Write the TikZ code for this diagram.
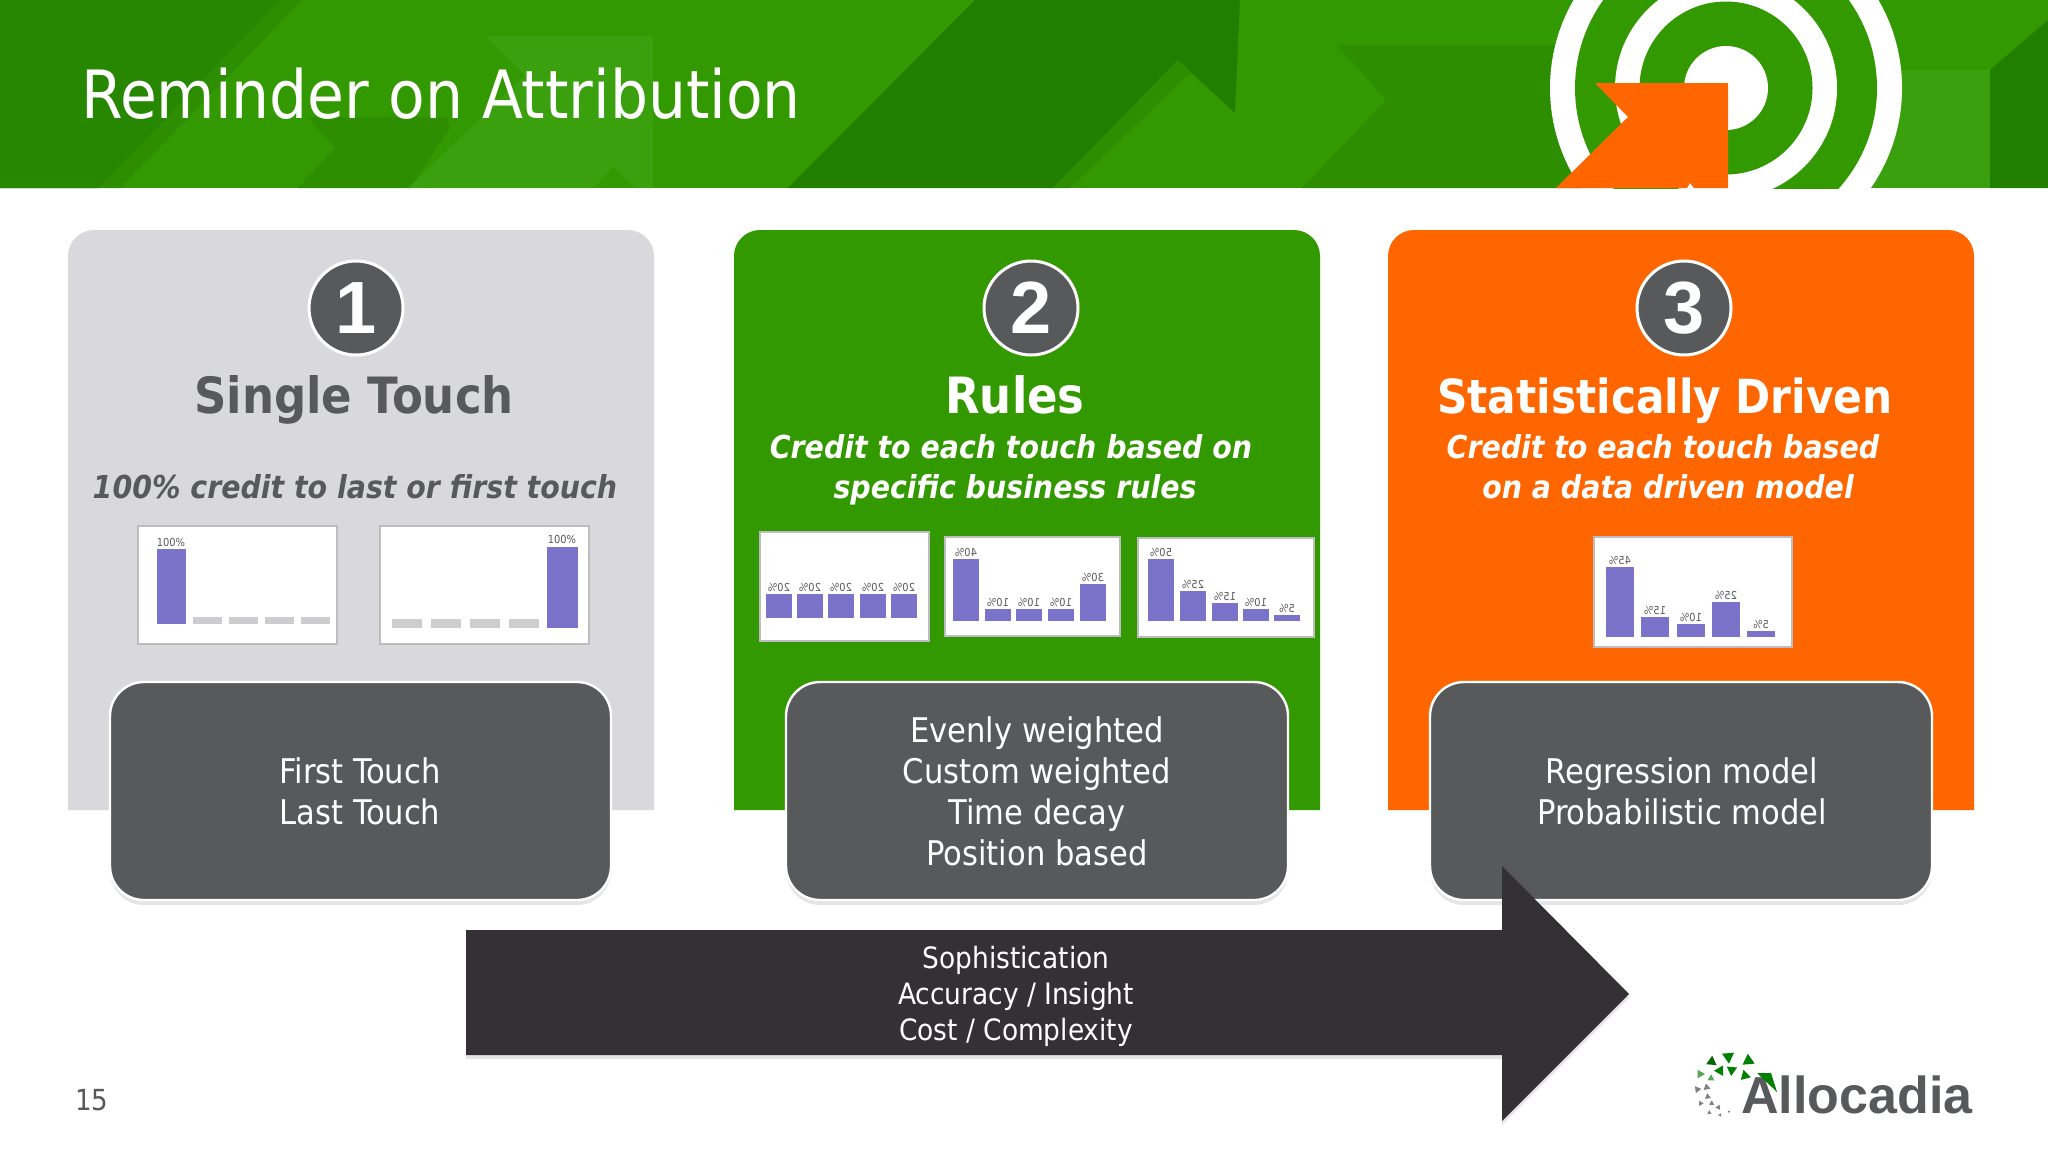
\documentclass[tikz,border=0pt]{standalone}
\usepackage{fontspec}
\setmainfont{DejaVu Sans Condensed}
\newfontfamily\logofont{Liberation Sans}
\usetikzlibrary{shadows}
\definecolor{bannergreen}{HTML}{339900}
\definecolor{bannerdark}{HTML}{2C8E00}
\definecolor{bannerleft}{HTML}{278700}
\definecolor{bannerdeep}{HTML}{217F00}
\definecolor{bannerlight}{HTML}{3AA00E}
\definecolor{panelgray}{HTML}{D9D9DC}
\definecolor{paneltext}{HTML}{58595B}
\definecolor{hotorange}{HTML}{FF6600}
\definecolor{slatebox}{HTML}{58595B}
\definecolor{arrowdark}{HTML}{333133}
\definecolor{barpurple}{HTML}{7A73C9}
\definecolor{bargray}{HTML}{CDCDD0}
\definecolor{thumbedge}{HTML}{BDBDC0}
\tikzset{
    slatenode/.style={draw=white,line width=1.2pt,fill=slatebox,rounded corners=17pt,
        drop shadow={shadow xshift=0pt,shadow yshift=-2.5pt,opacity=.2}},
    numbercircle/.style={circle,draw=white,line width=1.5pt,fill=slatebox,text=white,
        minimum size=47pt,inner sep=0pt,font=\logofont\bfseries\fontsize{37}{37}\selectfont},
    headtext/.style={anchor=base,inner sep=0pt,font=\bfseries\fontsize{25}{25}\selectfont},
    subtext/.style={anchor=base,inner sep=0pt,font=\bfseries\itshape\fontsize{15.8}{15.8}\selectfont},
    slatetext/.style={white,align=center,font=\fontsize{17}{20.5}\selectfont},
    thumb/.style={draw=thumbedge,line width=.6pt,fill=white},
    barlabel/.style={text=paneltext,font=\fontsize{5.5}{5.5}\selectfont,inner sep=0pt},
}
\begin{document}
\begin{tikzpicture}[x=0.5pt,y=-0.5pt]
    \useasboundingbox (0,0) rectangle (2048,1152);
    \fill[white] (0,0) rectangle (2048,1152);
    %% Banner
    \begin{scope}
        \clip (0,0) rectangle (2048,188);
        \fill[bannergreen] (0,0) rectangle (2048,188);
        \fill[bannerdark] (0,0) -- (302,0) -- (120,188) -- (0,188) -- cycle;
        \fill[bannerleft] (0,0) -- (280,0) -- (98,188) -- (0,188) -- cycle;
        \fill[bannerdark] (307,117) -- (447,117) -- (450,128) -- (410,188) -- (298,188)
            -- (335,148) -- cycle;
        \fill[bannerlight] (485,36) -- (653,36) -- (653,188) -- (634,188) -- (613,167)
            -- (594,188) -- (408,188) -- (525,75) -- cycle;
        \fill[bannerdeep] (975,0) -- (1240,0) -- (1235,113) -- (1178,60) -- (1053,188)
            -- (788,188) -- cycle;
        \fill[bannerdark] (1178,60) -- (1212,92) -- (1190,73) -- (1070,188) -- (1053,188) -- cycle;
        \fill[bannerdark] (1337,45) -- (1600,45) -- (1600,188) -- (1302,188) -- (1386,100) -- cycle;
        \fill[bannerlight] (1840,70) -- (1990,70) -- (1990,188) -- (1840,188) -- cycle;
        \fill[bannerdeep] (1990,70) -- (2048,20) -- (2048,188) -- (1990,188) -- cycle;
        %% Target rings
        \fill[white] (1726,88) circle (176);
        \fill[bannergreen] (1726,88) circle (151);
        \fill[white] (1726,88) circle (111);
        \fill[bannergreen] (1726,88) circle (86.5);
        \fill[white] (1726,88) circle (42);
        \fill[hotorange] (1595,83) -- (1728,83) -- (1728,188) -- (1694,188) -- (1690,183)
            -- (1687,188) -- (1556,188) -- (1628,117) -- cycle;
    \end{scope}
    \node[white,anchor=base west,inner sep=0pt,font=\fontsize{33.3}{33.3}\selectfont] (title) at (81,118) {Reminder on Attribution};
    %% Panels
    \fill[panelgray] (68,810) {[rounded corners=13pt] -- (68,230) -- (654,230)} -- (654,810) -- cycle;
    \fill[bannergreen] (734,810) {[rounded corners=13pt] -- (734,230) -- (1320,230)} -- (1320,810) -- cycle;
    \fill[hotorange] (1388,810) {[rounded corners=13pt] -- (1388,230) -- (1974,230)} -- (1974,810) -- cycle;
    %% Number circles
    \node[numbercircle] (one) at (356,308) {1};
    \node[numbercircle] (two) at (1031,308) {2};
    \node[numbercircle] (three) at (1684,308) {3};
    %% Headings
    \node[headtext,text=paneltext] (single) at (354,413) {Single Touch};
    \node[headtext,text=white] (rules) at (1015,413) {Rules};
    \node[headtext,text=white,font=\bfseries\fontsize{23.5}{23.5}\selectfont] (stats) at (1665,413) {Statistically Driven};
    \node[subtext,text=paneltext] (singlesub) at (355,498) {100\% credit to last or first touch};
    \node[subtext,text=white] (rulesa) at (1011,458) {Credit to each touch based on};
    \node[subtext,text=white] (rulesb) at (1015,498) {specific business rules};
    \node[subtext,text=white] (statsa) at (1663,458) {Credit to each touch based};
    \node[subtext,text=white] (statsb) at (1668,498) {on a data driven model};
    %% First and last touch charts
    \draw[thumb] (138,526) rectangle (337,644);
    \fill[barpurple] (157,549) rectangle (186,624);
    \foreach \x in {193,229,265,301}
        \fill[bargray] (\x,617) rectangle ++(29,7);
    \node[barlabel] (firstlab) at (171,542) {100\%};
    \draw[thumb] (380,526) rectangle (589,644);
    \fill[barpurple] (547,547) rectangle (578,628);
    \foreach \x in {392,431,470,509}
        \fill[bargray] (\x,619) rectangle ++(30,9);
    \node[barlabel] (lastlab) at (562,539) {100\%};
    %% Rules charts
    \draw[thumb] (760,532) rectangle (929,641);
    \foreach \x/\t in {766/20,797/20,828/20,860/20,891/20} {
        \fill[barpurple] (\x,594) rectangle ++(25.5,24);
        \node[barlabel,xscale=-1] at (\x+13,587) {\t\%};
    }
    \draw[thumb] (945,537) rectangle (1120,636);
    \foreach \x/\y/\t in {953/559/40,985/609/10,1016/609/10,1048/609/10,1080/584/30} {
        \fill[barpurple] (\x,\y) rectangle (\x+25.5,621);
        \node[barlabel,xscale=-1] at (\x+13,\y-6.5) {\t\%};
    }
    \draw[thumb] (1138,538) rectangle (1314,637);
    \foreach \x/\y/\t in {1148/559/50,1180/591/25,1212/603/15,1243/609/10,1274/615/5} {
        \fill[barpurple] (\x,\y) rectangle (\x+25.5,621);
        \node[barlabel,xscale=-1] at (\x+13,\y-6.5) {\t\%};
    }
    %% Statistical chart
    \draw[thumb] (1594,537) rectangle (1792,647);
    \foreach \x/\y/\t in {1606/567/45,1641/617/15,1677/624/10,1712/602/25,1747/631/5} {
        \fill[barpurple] (\x,\y) rectangle (\x+27.5,637);
        \node[barlabel,xscale=-1] at (\x+14,\y-7) {\t\%};
    }
    %% Slate boxes
    \draw[slatenode] (110,682) rectangle (611,900);
    \draw[slatenode] (786,682) rectangle (1288,900);
    \draw[slatenode] (1430,682) rectangle (1932,900);
    \node[slatetext] (touches) at (360,791) {First Touch\\Last Touch};
    \node[slatetext] (weights) at (1037,791) {Evenly weighted\\Custom weighted\\Time decay\\Position based};
    \node[slatetext] (models) at (1682,791) {Regression model\\Probabilistic model};
    %% Big arrow
    \fill[arrowdark,drop shadow={shadow xshift=0pt,shadow yshift=-2pt,opacity=.2}]
        (466,930) -- (1502,930) -- (1502,866) -- (1629,994) -- (1502,1121) -- (1502,1055)
        -- (466,1055) -- cycle;
    \node[white,align=center,font=\fontsize{14.7}{18}\selectfont] (grows) at (1016,996) {Sophistication\\Accuracy / Insight\\Cost / Complexity};
    %% Page number
    \node[text=paneltext,font=\fontsize{14.5}{14.5}\selectfont] (page) at (92,1100) {15};
    %% Logo
    \node[anchor=base west,inner sep=0pt,text=paneltext,font=\logofont\bfseries\fontsize{26}{26}\selectfont] (logo) at (1741,1113) {Allocadia};
    \foreach \x/\y/\r/\c in {205/80/7/green!50!black,265/92/7/green!50!black,155/95/6/green!40!black,180/122/6/green!50!black,215/120/6/green!50!black,255/137/6/green!50!black,120/132/5/green!30!gray,153/145/4/green!30!gray,112/178/4/gray,140/172/4/gray,143/200/3.5/gray,122/220/3/gray,155/220/3/gray,175/232/3/gray,148/248/2.5/gray,180/255/2/gray,207/245/1.5/gray}
        \fill[\c] (1660+\x/3,1030+\y/3) ++(\x:\r) -- ++(\x+150:1.73*\r) -- ++(\x+270:1.73*\r) -- cycle;
    \fill[green!50!black] (1757,1073) -- (1771,1073) -- (1777,1092) -- cycle;
\end{tikzpicture}
\end{document}
